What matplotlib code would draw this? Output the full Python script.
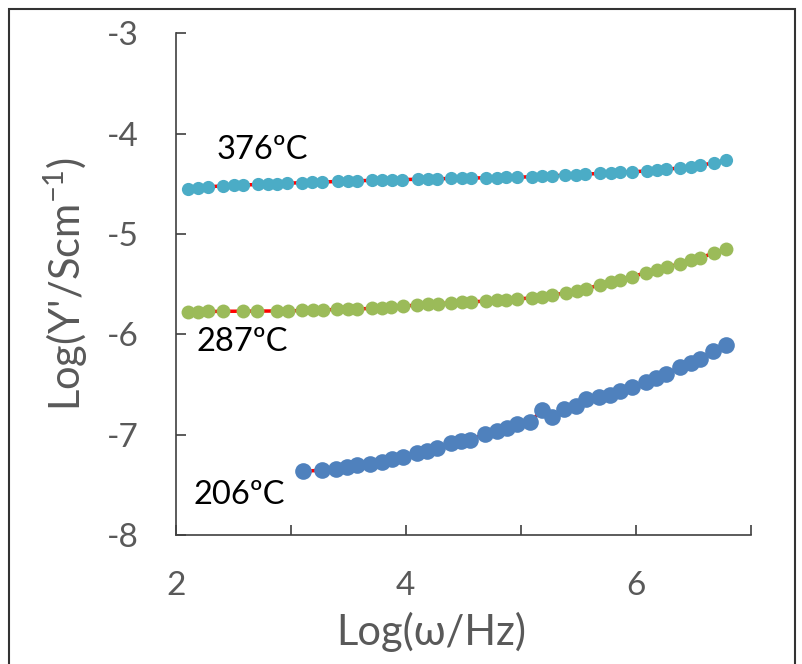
import matplotlib.pyplot as plt
from matplotlib.patches import Rectangle

plt.rcParams['font.family'] = ['Lato', 'DejaVu Sans']
plt.rcParams['mathtext.default'] = 'regular'

# 376 ºC
x376 = [2.104, 2.191, 2.278, 2.409, 2.504, 2.583, 2.713, 2.800, 2.878, 2.965,
        3.096, 3.183, 3.270, 3.409, 3.496, 3.574, 3.704, 3.791, 3.878, 3.965,
        4.104, 4.191, 4.270, 4.391, 4.487, 4.565, 4.696, 4.791, 4.870, 4.965,
        5.096, 5.183, 5.270, 5.383, 5.478, 5.557, 5.687, 5.783, 5.861, 5.965,
        6.096, 6.183, 6.261, 6.383, 6.478, 6.557, 6.678, 6.783]
y376 = [-4.547, -4.538, -4.530, -4.521, -4.516, -4.512, -4.507, -4.503, -4.499, -4.494,
        -4.489, -4.486, -4.483, -4.476, -4.473, -4.470, -4.466, -4.463, -4.460, -4.458,
        -4.455, -4.452, -4.450, -4.447, -4.445, -4.443, -4.440, -4.438, -4.436, -4.434,
        -4.430, -4.425, -4.420, -4.414, -4.409, -4.404, -4.397, -4.392, -4.387, -4.381,
        -4.372, -4.364, -4.356, -4.342, -4.330, -4.316, -4.292, -4.265]

# 287 ºC
x287 = [2.104, 2.191, 2.278, 2.409, 2.583, 2.704, 2.878, 2.974, 3.096, 3.191,
        3.278, 3.400, 3.496, 3.574, 3.704, 3.791, 3.870, 3.974, 4.096, 4.191,
        4.278, 4.391, 4.487, 4.565, 4.696, 4.791, 4.870, 4.965, 5.096, 5.183,
        5.270, 5.391, 5.487, 5.565, 5.687, 5.783, 5.861, 5.965, 6.087, 6.183,
        6.270, 6.383, 6.478, 6.557, 6.678, 6.783]
y287 = [-5.776, -5.774, -5.772, -5.770, -5.769, -5.768, -5.767, -5.766, -5.762, -5.758,
        -5.755, -5.752, -5.750, -5.748, -5.740, -5.733, -5.726, -5.718, -5.708, -5.700,
        -5.694, -5.686, -5.680, -5.676, -5.668, -5.661, -5.655, -5.648, -5.636, -5.624,
        -5.610, -5.585, -5.565, -5.547, -5.507, -5.478, -5.455, -5.427, -5.385, -5.356,
        -5.333, -5.295, -5.262, -5.238, -5.190, -5.151]

# 206 ºC
x206 = [3.102, 3.272, 3.397, 3.484, 3.571, 3.687, 3.789, 3.876, 3.971, 4.093,
        4.180, 4.267, 4.389, 4.476, 4.557, 4.687, 4.789, 4.876, 4.963, 5.084,
        5.180, 5.267, 5.374, 5.478, 5.565, 5.681, 5.774, 5.861, 5.963, 6.087,
        6.174, 6.261, 6.383, 6.484, 6.557, 6.672, 6.783]
y206 = [-7.363, -7.353, -7.336, -7.320, -7.303, -7.286, -7.268, -7.246, -7.222, -7.185,
        -7.158, -7.130, -7.082, -7.064, -7.047, -6.995, -6.967, -6.935, -6.893, -6.872,
        -6.756, -6.825, -6.748, -6.715, -6.645, -6.625, -6.600, -6.567, -6.524, -6.474,
        -6.434, -6.392, -6.325, -6.285, -6.244, -6.163, -6.107]

labels = ['376ºC', '287ºC', '206ºC']
label_pos = [(2.357, -4.25), (2.183, -6.17), (2.157, -7.69)]

fig = plt.figure(figsize=(8.03, 6.64), dpi=100)
ax = fig.add_axes([0.219, 0.194, 0.716, 0.756])

gray = '#595959'
for x, y, c, ms in [(x376, y376, '#4BACC6', 9.5), (x287, y287, '#9BBB59', 10),
                    (x206, y206, '#4F81BD', 12)]:
    ax.plot(x, y, '-', color='red', lw=2.5, zorder=2)
    ax.plot(x, y, 'o', color=c, markersize=ms, markeredgewidth=0, zorder=3)

for t, (lx, ly) in zip(labels, label_pos):
    ax.text(lx, ly, t, fontsize=23.5, color='black', ha='left', va='baseline')

ax.set_xlim(2, 7)
ax.set_ylim(-8, -3)
ax.set_xticks([2, 4, 6])
ax.set_xticks([3, 5, 7], minor=True)
ax.set_yticks([-8, -7, -6, -5, -4, -3])
ax.set_yticklabels(['-8', '-7', '-6', '-5', '-4', '-3'])
ax.tick_params(which='both', direction='in', length=7, width=1.2, color='#404040',
               labelsize=24, labelcolor=gray)
ax.tick_params(axis='y', pad=27)
ax.tick_params(axis='x', pad=26)

for s in ['top', 'right']:
    ax.spines[s].set_visible(False)
for s in ['left', 'bottom']:
    ax.spines[s].set_color('#404040')
    ax.spines[s].set_linewidth(1.2)

ax.set_xlabel('Log(ω/Hz)', fontsize=30, color=gray)
ax.set_ylabel("Log(Y'/Scm$^{-1}$)", fontsize=30, color=gray)
ax.xaxis.set_label_coords(0.445, -0.152)
ax.yaxis.set_label_coords(-0.15, 0.5)

fig.patches.append(Rectangle((9 / 803, -0.1), 786 / 803, 1.1 - 9 / 664,
                             transform=fig.transFigure, fill=False,
                             edgecolor='#333333', lw=1.5))

fig.savefig('out.png', dpi=100)
